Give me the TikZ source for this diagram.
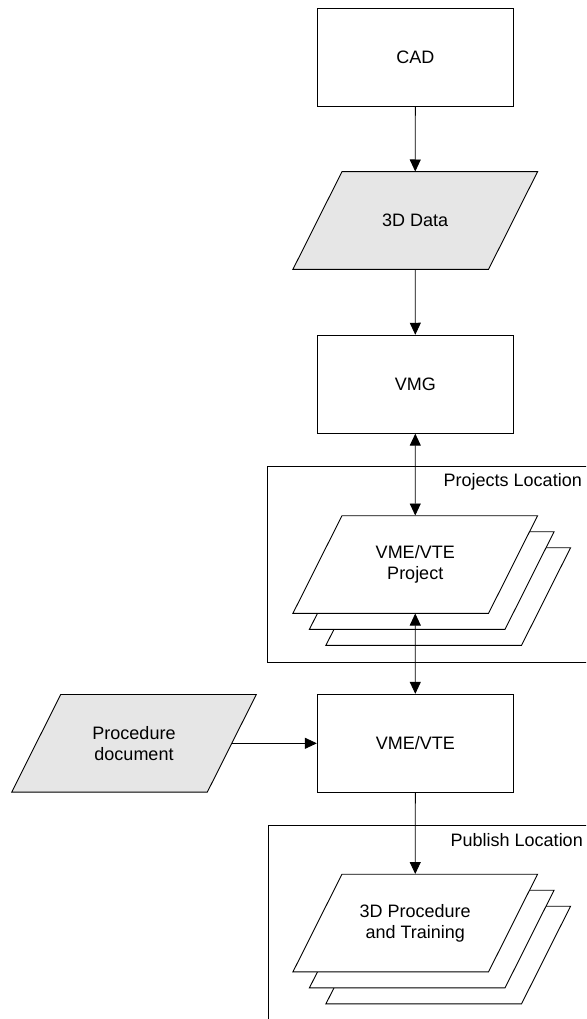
\documentclass[tikz,border=0pt]{standalone}
\usepackage{fontspec}
\setmainfont{Liberation Sans}
\usetikzlibrary{arrows.meta,calc}
\definecolor{shapegray}{RGB}{230,230,230}
\newcommand\paraShape[3]{%
  \draw[shapeline,fill=#3] ($(#1,#2)+(-73.3,-48.8)$) -- ++(195.6,0) -- ++(-49,97.6) -- ++(-195.6,0) -- cycle;}
\begin{document}
\begin{tikzpicture}[x=1pt,y=-1pt,
  shapeline/.style={draw=black,line width=0.9pt},
  txt/.style={font=\fontsize{18}{20.7}\selectfont,align=center},
  procbox/.style={shapeline,txt,fill=white,minimum width=196pt,minimum height=98pt,inner sep=0pt},
  paranode/.style={txt,draw=none,minimum width=196pt,minimum height=97.6pt,inner sep=0pt},
  conn/.style={line width=0.9pt,-{Triangle[length=12pt,width=11pt]}},
  biconn/.style={line width=0.9pt,{Triangle[length=12pt,width=11pt]}-{Triangle[length=12pt,width=11pt]}},
  container/.style={draw=black,line width=0.9pt},
  loclabel/.style={font=\fontsize{18}{20.7}\selectfont,anchor=base east,inner sep=0pt}]
\useasboundingbox (0,0) rectangle (586,1019);
\clip (0,0) rectangle (586,1019);
\fill[white] (0,0) rectangle (586,1019);

% containers
\draw[container] (600,466) -- (267.5,466) -- (267.5,662.3) -- (600,662.3);
\node[loclabel] (projloc) at (582,486.7) {Projects Location};
\draw[container] (600,825.3) -- (268,825.3) -- (268,1030);
\node[loclabel] (publoc) at (583,846.7) {Publish Location};

% process boxes
\node[procbox] (cad) at (415.3,57.7) {CAD};
\node[procbox] (vmg) at (415.3,384.2) {VMG};
\node[procbox] (vme) at (415.3,743.3) {VME/VTE};

% data shapes
\paraShape{415.25}{220.5}{shapegray}
\node[paranode] (data) at (415.25,220.5) {3D Data};

\paraShape{134}{743.3}{shapegray}
\node[paranode] (doc) at (134,743.3) {Procedure\\document};

% stacked project
\paraShape{448.25}{596.5}{white}
\paraShape{431.75}{580.5}{white}
\paraShape{415.25}{564.5}{white}
\node[paranode] (proj) at (415.25,564.5) {VME/VTE\\Project};

% stacked publish
\paraShape{448.25}{955}{white}
\paraShape{431.75}{939}{white}
\paraShape{415.25}{923}{white}
\node[paranode] (pub) at (415.25,923) {3D Procedure\\and Training};

% connectors
\draw[conn] (cad.south) -- (data.north);
\draw[conn] (data.south) -- (vmg.north);
\draw[biconn] (vmg.south) -- (proj.north);
\draw[biconn] (proj.south) -- (vme.north);
\draw[conn] (doc.east) -- (vme.west);
\draw[conn] (vme.south) -- (pub.north);
\end{tikzpicture}
\end{document}
